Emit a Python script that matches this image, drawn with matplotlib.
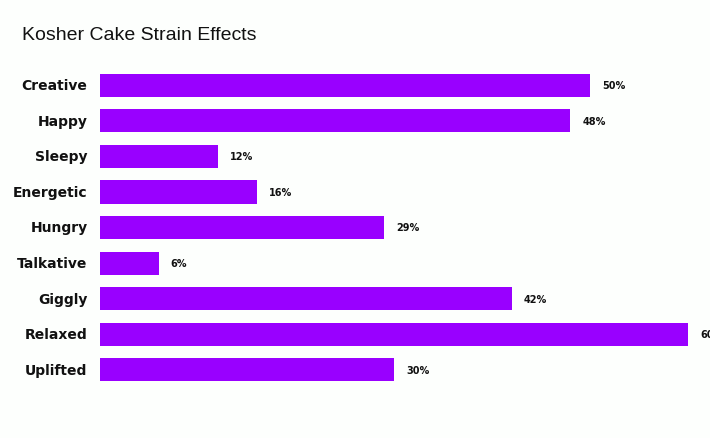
import matplotlib
matplotlib.use("Agg")
import matplotlib.pyplot as plt

categories = ["Creative", "Happy", "Sleepy", "Energetic", "Hungry", "Talkative", "Giggly", "Relaxed", "Uplifted"]
values = [50, 48, 12, 16, 29, 6, 42, 60, 30]
value_labels = [f"{v}%" for v in values]

W, H = 710, 439
fig = plt.figure(figsize=(W / 100, H / 100), dpi=100)
fig.patch.set_facecolor("#fdfffd")
ax = fig.add_axes([100 / W, 1 - 388.5 / H, 588 / W, (388.5 - 68.5) / H])
ax.set_facecolor("#fdfffd")

y = list(range(len(categories)))
ax.barh(y, values, height=0.65, color="#9900ff")
ax.set_xlim(0, 60)
ax.set_ylim(len(categories) - 0.5, -0.5)
ax.set_yticks(y)
ax.set_yticklabels(categories, fontsize=10, fontweight="bold", family="DejaVu Sans", color="#111111")
for t in ax.get_yticklabels():
    t.set_verticalalignment("center")
ax.tick_params(axis="y", length=0, pad=9)
ax.set_xticks([])
for s in ax.spines.values():
    s.set_visible(False)

for yi, v, lab in zip(y, values, value_labels):
    ax.annotate(lab, (v, yi), xytext=(12, 0), textcoords="offset pixels",
                va="center", ha="left", fontsize=7, fontweight="bold", color="#111111",
                annotation_clip=False)

fig.text(22 / W, 1 - 35 / H, "Kosher Cake Strain Effects", fontsize=14, color="#111111",
         va="center", ha="left", family="Liberation Sans")

fig.savefig("out.png", dpi=100, facecolor=fig.get_facecolor())
